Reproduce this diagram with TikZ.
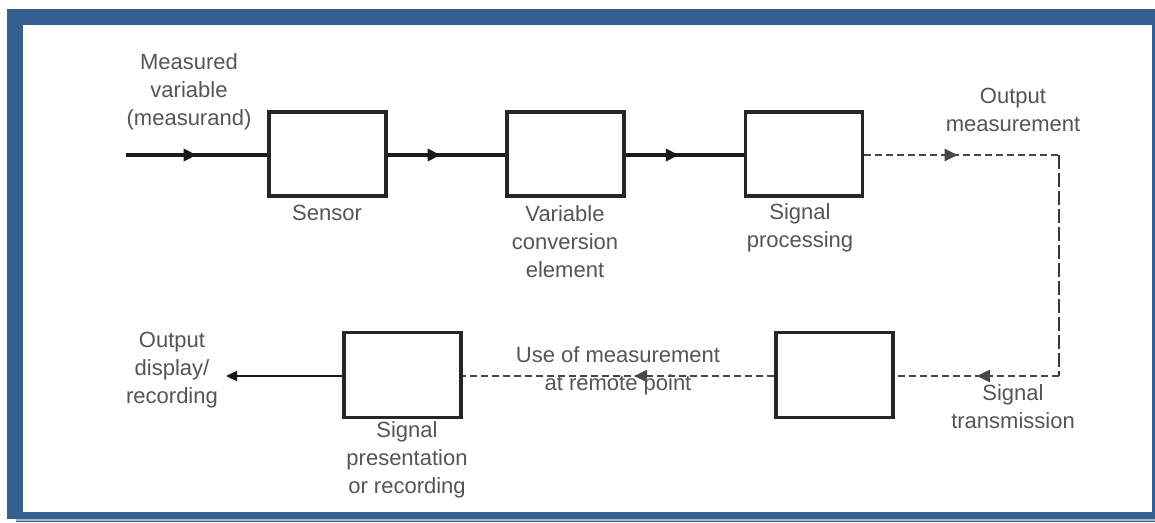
\documentclass[tikz,border=0pt]{standalone}
\usepackage{fontspec}
\setmainfont{Liberation Sans}
\usetikzlibrary{arrows.meta,decorations.markings}
\definecolor{frameblue}{RGB}{53,96,143}
\definecolor{txtgray}{RGB}{85,85,85}
\tikzset{
  blockbox/.style={draw=black!85, line width=3.4pt, minimum width=117pt, minimum height=84pt, inner sep=0pt},
  lbl/.style={text=txtgray, align=center, font=\fontsize{22}{28}\selectfont, inner sep=0pt},
  sline/.style={draw=black!90, line width=3.2pt},
  dline/.style={draw=black!72, line width=2pt, dash pattern=on 7pt off 4pt},
  vdline/.style={draw=black!78, line width=2.2pt, dash pattern=on 14pt off 4pt},
  midarrow/.style={postaction={decorate, decoration={markings,
     mark=at position #1 with {\arrow{Triangle[length=13pt,width=12pt]}}}}},
  endarrow/.style={-{Triangle[length=11pt,width=10pt]}}
}
\begin{document}
\begin{tikzpicture}[x=1pt,y=-1pt]
\useasboundingbox (0,0) rectangle (1155,522);
% frame
\fill[frameblue] (7,9) rectangle (1155,519);
\fill[white] (23,25) rectangle (1152,512);
\fill[frameblue!45] (16,519) rectangle (1155,520.5);
\fill[frameblue] (16,520.5) rectangle (1155,522);

% blocks
\node[blockbox] (sensor) at (327.5,154) {};
\node[blockbox] (vce) at (565.5,154) {};
\node[blockbox] (sp) at (804,154) {};
\node[blockbox, minimum height=85pt] (tx) at (834.5,375) {};
\node[blockbox, minimum height=85pt] (spr) at (402.5,375) {};

% free ends
\coordinate (in) at (126,155);
\coordinate (c1) at (1059,155);
\coordinate (c2) at (1059,376);
\coordinate (out) at (226,376);

% connectors
\draw[sline, midarrow=0.5] (in) -- (in -| sensor.west);
\draw[sline, midarrow=0.45] (sensor.east |- in) -- (vce.west |- in);
\draw[sline, midarrow=0.45] (vce.east |- in) -- (sp.west |- in);
\draw[dline, midarrow=0.48] (sp.east |- in) -- (c1);
\draw[vdline] (c1) -- (c2);
\draw[dline, midarrow=0.5] (c2) -- (c2 -| tx.east);
\draw[dline, midarrow=0.45] (c2 -| tx.west) -- (c2 -| spr.east);
\draw[sline, line width=2.2pt, endarrow] (c2 -| spr.west) -- (out);

% labels
\node[lbl] (lmv) at (189,92) {Measured\\variable\\(measurand)};
\node[lbl] (lsen) at (327,213) {Sensor};
\node[lbl] (lvce) at (565,242) {Variable\\conversion\\element};
\node[lbl] (lsp) at (800,228) {Signal\\processing};
\node[lbl] (lom) at (1013,110) {Output\\measurement};
\node[lbl] (lst) at (1013,407) {Signal\\transmission};
\node[lbl] (lod) at (172,370) {Output\\display/\\recording};
\node[lbl] (lspr) at (407,460) {Signal\\presentation\\or recording};
\node[lbl] (luse) at (618,371) {Use of measurement\\at remote point};
\end{tikzpicture}
\end{document}
